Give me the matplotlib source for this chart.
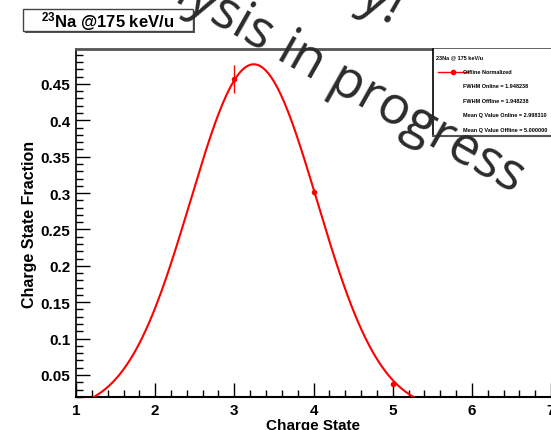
import matplotlib
matplotlib.use("Agg")
import matplotlib.pyplot as plt
from matplotlib.lines import Line2D
from matplotlib.patches import Rectangle
from matplotlib.ticker import MultipleLocator
import numpy as np

# measured charge state fractions (offline normalized)
charge_states = [3, 4, 5]
fractions = [0.457, 0.302, 0.038]
frac_errors = [0.019, 0.004, 0.002]

# gaussian fit parameters
fit_amp = 0.477
fit_mean = 3.245
fit_sigma = 0.80

legend_lines = ["FWHM Online = 1.948238", "FWHM Offline = 1.948238",
                "Mean Q Value Online = 2.998310", "Mean Q Value Offline = 5.000000"]

plt.rcParams['font.family'] = ['Liberation Sans', 'DejaVu Sans']
plt.rcParams['mathtext.fontset'] = 'custom'
plt.rcParams['mathtext.rm'] = 'Liberation Sans:bold'
plt.rcParams['mathtext.it'] = 'Liberation Sans:bold'

W, H = 551, 431


def px(x, y):
    # image pixel -> figure fraction
    return x / W, 1 - y / H


fig = plt.figure(figsize=(W / 100, H / 100), dpi=100)
ax = fig.add_axes([76 / W, 1 - 398 / H, 1 - 76 / W, (398 - 50) / H])

# fit curve
xs = np.linspace(1, 7, 400)
ys = fit_amp * np.exp(-(xs - fit_mean) ** 2 / (2 * fit_sigma ** 2))
ax.plot(xs, ys, color='red', lw=1.5, zorder=3)
ax.errorbar(charge_states, fractions, yerr=frac_errors, fmt='o', color='red',
            ms=3, elinewidth=1, capsize=0, zorder=4)

ax.set_xlim(1, 7)
ax.set_ylim(0.0197, 0.498)
ax.xaxis.set_major_locator(MultipleLocator(1))
ax.xaxis.set_minor_locator(MultipleLocator(0.2))
ax.yaxis.set_minor_locator(MultipleLocator(0.01))
ax.set_yticks([0.05, 0.1, 0.15, 0.2, 0.25, 0.3, 0.35, 0.4, 0.45])
ax.set_yticklabels(['0.05', '0.1', '0.15', '0.2', '0.25', '0.3', '0.35', '0.4', '0.45'])
ax.tick_params(which='both', direction='in', labelsize=11, width=1)
ax.tick_params(which='major', length=10, pad=4)
ax.tick_params(which='minor', length=5)
for lab in ax.get_xticklabels() + ax.get_yticklabels():
    lab.set_fontweight('bold')

ax.spines['right'].set_visible(False)
ax.spines['top'].set_color('#555555')
ax.spines['top'].set_linewidth(2)
ax.spines['left'].set_linewidth(1.2)
ax.spines['bottom'].set_linewidth(1.5)

ax.set_xlabel("Charge State", fontsize=11, fontweight='bold', labelpad=1)
ax.set_ylabel("Charge State Fraction", fontsize=11.5, fontweight='bold', labelpad=3)

# title box with shadow
x0, y0 = px(23, 32)
x1, y1 = px(193, 10)
fig.add_artist(Rectangle((x0 + 2 / W, y0 - 2 / H), x1 - x0, y1 - y0,
                         transform=fig.transFigure, facecolor='#555555', edgecolor='none'))
fig.add_artist(Rectangle((x0, y0), x1 - x0, y1 - y0, transform=fig.transFigure,
                         facecolor='white', edgecolor='#444444', lw=1))
fig.text((x0 + x1) / 2, (y0 + y1) / 2 - 0.002, r"$^{23}$Na @175 keV/u",
         ha='center', va='center', fontsize=12, fontweight='bold')

# legend box
lx, ly_top = px(433, 50)
_, ly_bot = px(433, 137)
fig.add_artist(Rectangle((lx, ly_bot), 1 - lx, ly_top - ly_bot, transform=fig.transFigure,
                         facecolor='white', edgecolor='none', zorder=5))
fig.add_artist(Line2D([lx, lx], [ly_bot, ly_top], transform=fig.transFigure,
                      color='black', lw=1.2, zorder=6))
fig.add_artist(Line2D([lx, 1], [ly_bot, ly_bot], transform=fig.transFigure,
                      color='#555555', lw=1.5, zorder=6))
fig.text(*px(436, 58), "23Na @ 175 keV/u", fontsize=4, fontweight='bold',
         va='center', zorder=7)
mx0, my = px(438, 73)
mx1, _ = px(468, 73)
fig.add_artist(Line2D([mx0, mx1], [my, my], transform=fig.transFigure,
                      color='red', lw=1, zorder=7))
fig.add_artist(Line2D([(mx0 + mx1) / 2], [my], transform=fig.transFigure,
                      color='red', marker='o', ms=3, zorder=7))
fig.text(*px(463, 73), "Offline Normalized", fontsize=4, fontweight='bold',
         va='center', zorder=7)
for i, t in enumerate(legend_lines):
    fig.text(*px(463, 87 + 14.5 * i), t, fontsize=4, fontweight='bold',
             va='center', zorder=7)

# watermark
wm = dict(fontsize=38, color='#2b2b2b', rotation=-29.5, rotation_mode='anchor',
          ha='right', va='baseline', zorder=10, family=['Open Sans', 'DejaVu Sans'])
fig.text(*px(392, 28), "Preliminary!", **wm)
fig.text(*px(514, 193), "Analysis in progress", **wm)

fig.savefig("out.png", dpi=100)
